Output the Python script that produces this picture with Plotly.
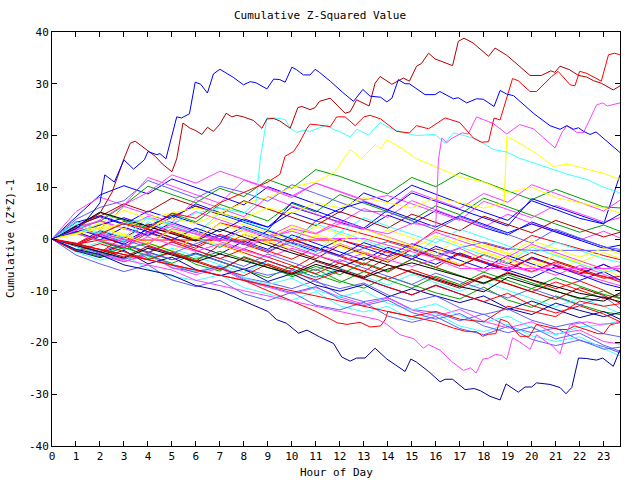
import plotly.graph_objects as go

HOURS = list(range(24)) + [23.68]
X_TICKS = list(range(24))
Y_TICKS = list(range(-40, 41, 10))

R, G, B, M, C = "#ff0000", "#00a000", "#0000ff", "#ff40ff", "#40ffff"
DR, Y, K, DB, MB = "#b00000", "#ffff00", "#000000", "#0000a0", "#6060ff"

# bundle series sampled hourly (HOURS)
S01 = [0,1.5,-0.5,-1.8,2.4,1.2,-0.3,3.1,2.0,0.6,-0.8,3.5,2.2,1.0,-0.4,-1.6,1.8,0.5,-0.9,-2.1,0.7,-0.6,-2.0,-3.2,-4.0]
S02 = [0,-2.2,-3.1,-4.4,-3.0,-5.6,-6.3,-5.2,-7.5,-8.4,-9.6,-8.0,-10.8,-12.1,-11.3,-13.6,-14.2,-15.8,-14.5,-16.9,-18.1,-17.2,-19.6,-20.8,-22.0]
S03 = [0,2.6,4.3,2.8,5.4,3.9,6.8,5.1,3.6,2.3,6.2,4.7,3.2,1.8,4.6,2.9,5.5,3.8,2.2,0.8,3.3,1.6,0.1,-1.4,-2.5]
S04 = [0,-1.4,-3.2,-1.1,-3.8,-2.5,-4.9,-6.2,-3.4,-5.0,-7.3,-5.8,-8.1,-9.5,-7.2,-8.8,-10.4,-11.6,-9.3,-11.8,-13.2,-11.0,-12.7,-14.1,-14.6]
S05 = [0,3.4,1.9,6.3,4.8,3.2,7.6,5.9,4.3,8.2,6.4,4.8,3.1,5.9,4.2,7.4,5.6,3.9,2.3,4.8,3.0,1.4,-0.2,1.5,0.2]
S06 = [0,-2.5,-4.1,-3.0,-5.8,-7.2,-8.0,-6.9,-9.4,-10.6,-11.8,-10.2,-12.9,-14.1,-13.0,-15.6,-14.4,-16.8,-17.9,-16.5,-18.7,-19.8,-18.9,-21.2,-22.6]
S07 = [0,1.2,3.0,5.6,3.9,2.4,1.0,4.2,2.7,1.3,-0.2,2.5,1.0,-0.6,1.8,0.2,-1.5,-3.0,-1.1,-2.8,-4.4,-5.9,-4.2,-5.8,-7.3]
S08 = [0,-1.0,1.6,0.2,2.9,1.4,-0.1,-1.6,0.9,-0.7,-2.3,-3.8,-1.2,-2.9,-4.5,-2.0,-3.7,-5.2,-3.1,-4.8,-2.6,-4.2,-5.8,-7.3,-7.9]
S09 = [0,2.3,0.9,-0.6,1.9,0.3,-1.3,-2.9,-0.4,-2.0,0.8,-0.9,-2.5,-4.1,-1.6,-3.3,-4.9,-2.7,-4.4,-6.0,-7.5,-5.3,-6.9,-8.6,-9.4]
S10 = [0,4.2,8.5,10.3,8.7,11.6,9.9,8.2,6.6,10.1,8.4,6.8,5.1,8.9,7.2,10.4,8.6,6.9,5.2,3.6,7.4,5.7,4.0,2.9,12.4]
S11 = [0,-3.1,-4.8,-6.3,-5.0,-7.9,-9.2,-8.0,-10.6,-11.9,-10.3,-12.8,-13.7,-12.2,-14.9,-16.1,-15.0,-17.3,-18.5,-16.9,-19.4,-20.6,-19.5,-21.3,-20.9]
S12 = [0,1.1,-0.4,-1.7,1.2,-0.3,-1.8,0.6,-1.0,-2.6,-0.1,-1.8,-3.4,-5.0,-2.2,-3.9,-5.5,-2.8,-4.5,-6.1,-3.6,-5.2,-6.8,-4.9,-6.3]
S13 = [0,2.4,5.1,3.6,2.1,4.9,3.3,6.7,5.1,3.5,6.9,5.2,8.6,6.9,5.2,3.6,6.4,4.7,7.9,6.2,4.5,2.9,1.3,2.7,1.5]
S14 = [0,-1.3,-2.8,-1.0,-2.5,-4.0,-2.7,-4.3,-5.9,-4.2,-5.8,-7.4,-6.0,-7.7,-9.3,-10.8,-8.9,-10.6,-12.2,-13.7,-12.0,-13.6,-15.2,-14.0,-15.5]
S15 = [0,1.7,3.6,2.1,0.5,2.9,1.3,-0.3,1.8,0.2,-1.4,-3.0,-0.9,-2.5,-4.1,-1.6,-3.3,-4.9,-6.4,-3.7,-5.4,-7.0,-5.1,-6.8,-8.0]
S16 = [0,-2.0,-0.6,-2.4,-4.0,-1.8,-3.4,-5.0,-6.5,-4.3,-5.9,-7.5,-5.6,-7.3,-8.9,-6.8,-8.5,-10.1,-8.3,-9.9,-11.5,-13.1,-11.4,-13.0,-14.4]
S17 = [0,2.1,3.4,6.5,10.2,8.6,7.0,9.8,8.2,11.5,9.8,13.4,12.1,10.4,8.7,11.9,10.1,12.8,11.0,9.3,7.6,9.6,7.9,6.2,6.0]
S18 = [0,-1.2,-2.6,0.4,-1.2,-2.8,-4.3,-1.1,-2.7,-4.2,-5.8,-3.1,-4.7,-6.3,-3.5,-1.9,-3.6,-5.2,-3.0,-4.7,-6.3,-4.4,-6.0,-7.6,-7.2]
S19 = [0,3.2,4.5,2.9,1.4,4.3,6.4,4.8,3.2,1.7,7.1,5.4,3.7,2.1,5.6,3.9,2.3,4.5,2.8,1.2,2.9,1.3,-0.3,-1.8,-1.2]
S20 = [0,-1.1,-2.7,-4.3,-3.1,-5.5,-6.9,-5.6,-8.0,-9.3,-10.6,-9.4,-11.2,-12.6,-11.4,-13.7,-14.9,-13.6,-15.9,-17.2,-16.0,-18.4,-17.6,-19.8,-20.3]
S21 = [0,1.0,2.6,0.9,-0.6,2.0,0.4,-1.2,0.9,-0.7,1.8,0.1,-1.5,-3.1,-0.5,-2.1,0.6,-1.0,-2.6,-4.1,-1.3,-2.9,-4.5,-2.6,-3.8]
S22 = [0,-1.4,0.8,-1.0,-2.6,-0.5,-2.2,-3.8,-5.3,-2.9,-4.5,-6.1,-4.0,-5.6,-7.2,-8.8,-6.6,-8.2,-9.8,-11.4,-9.6,-11.2,-12.8,-11.1,-13.4]
S23 = [0,2.2,0.7,3.4,1.8,0.2,-1.4,0.9,-0.7,-2.3,-3.9,-1.6,-3.2,-4.8,-6.4,-3.9,-5.5,-7.1,-8.7,-6.4,-8.0,-9.6,-8.1,-9.9,-11.5]
S24 = [0,5.3,8.1,6.5,11.9,10.2,8.5,6.9,11.4,9.7,8.0,10.8,9.1,7.4,5.7,9.3,7.6,5.9,8.8,7.1,10.5,8.8,7.1,5.4,7.5]
S25 = [0,-1.3,-3.0,-1.7,-3.4,-4.9,-6.3,-5.1,-7.5,-8.8,-7.6,-9.9,-11.2,-10.0,-12.4,-13.7,-12.5,-14.8,-16.1,-14.9,-17.2,-18.5,-17.0,-16.6,-15.8]
S26 = [0,1.4,-0.2,2.3,0.7,3.2,1.6,0.0,2.4,0.8,-0.8,-2.4,-0.1,-1.7,-3.3,-0.9,-2.5,-4.1,-5.7,-3.2,-4.8,-6.4,-8.0,-6.3,-7.9]
S27 = [0,-2.1,-3.4,-1.6,-3.2,-4.7,-2.8,-4.4,-6.0,-7.5,-5.2,-6.8,-8.4,-6.3,-7.9,-9.5,-7.2,-8.8,-6.4,-8.0,-9.6,-7.5,-9.1,-10.7,-11.5]
S28 = [0,2.5,4.4,6.8,5.2,7.9,6.3,4.7,7.4,5.8,4.2,2.6,5.3,3.7,2.1,4.8,3.2,1.6,4.4,2.8,1.2,3.6,2.0,0.4,1.3]
S29 = [0,-1.2,-2.6,-3.9,-2.8,-5.1,-6.5,-5.3,-7.8,-9.1,-10.4,-9.2,-11.6,-12.9,-11.8,-14.2,-15.5,-14.4,-16.8,-18.1,-17.0,-19.3,-18.2,-20.5,-21.7]
S30 = [0,1.3,-0.6,0.9,-0.7,-2.3,0.4,-1.2,-2.8,-0.3,-1.9,0.6,-1.0,-2.6,-4.2,-1.7,-3.3,-4.9,-2.4,-4.0,-5.6,-3.1,-4.7,-6.3,-5.0]
S31 = [0,3.3,1.8,0.3,4.2,2.6,1.0,5.0,3.4,1.8,0.2,2.9,1.3,4.1,2.5,0.9,-0.7,1.9,0.3,-1.3,-2.9,-0.6,-2.2,-3.8,-4.5]
S32 = [0,-2.3,-3.6,-2.2,-4.8,-3.5,-5.9,-7.1,-5.8,-8.2,-6.7,-8.9,-10.1,-8.8,-11.2,-9.6,-11.0,-12.3,-11.0,-13.4,-14.6,-12.4,-13.8,-15.0,-14.2]
S33 = [0,1.6,3.7,6.6,9.0,12.4,10.8,13.1,11.5,9.9,8.3,10.8,9.2,7.6,8.4,6.8,5.2,3.6,7.3,5.7,4.1,6.5,4.9,3.3,4.1]
S34 = [0,-1.1,0.5,-1.1,-2.7,-0.6,-2.2,-3.8,-1.9,-3.5,-5.1,-6.7,-4.6,-6.2,-7.8,-5.9,-7.5,-9.1,-7.0,-8.6,-10.2,-8.3,-9.9,-11.5,-10.8]
S35 = [0,2.0,0.5,-1.0,1.4,-0.2,2.1,0.5,-1.1,1.6,0.0,-1.6,-3.2,-0.7,-2.3,-3.9,-1.4,-3.0,-4.6,-6.2,-3.5,-5.1,-6.7,-4.9,-6.4]
S36 = [0,-1.0,-2.4,-1.0,-2.6,-4.0,-2.9,-4.4,-5.8,-7.0,-6.0,-8.3,-9.6,-8.5,-10.8,-12.1,-11.0,-13.3,-14.6,-13.5,-15.7,-17.0,-16.0,-18.3,-18.9]
S37 = [0,2.3,3.5,1.9,4.4,2.8,5.3,3.7,2.1,0.5,2.7,1.1,3.6,2.0,0.4,-1.2,1.3,-0.3,-1.9,-3.5,-1.0,-2.6,-4.2,-5.8,-5.2]
S38 = [0,1.3,2.7,4.1,2.5,4.6,3.0,1.4,3.9,2.3,5.1,3.5,5.8,7.2,5.6,8.9,7.3,5.7,4.1,2.5,7.8,6.2,4.6,3.0,4.8]
S39 = [0,-2.4,-0.9,-2.5,-4.0,-2.6,-4.2,-5.7,-7.1,-4.8,-6.4,-7.9,-6.2,-7.8,-9.3,-10.8,-9.0,-10.6,-12.1,-10.5,-12.8,-14.3,-12.9,-14.5,-16.0]
S40 = [0,1.2,-0.4,-2.0,-0.8,-2.4,-3.9,-2.4,-4.0,-5.5,-7.0,-5.3,-6.9,-4.6,-6.2,-3.9,-5.5,-7.1,-8.6,-6.9,-8.5,-10.1,-11.6,-10.0,-11.4]
S41 = [0,-1,-0.2,-0.2,-0.2,-0.2,-0.2,-0.2,-0.2,-0.2,-0.2,-0.2,-0.2,-1.3,-2.6,-3.4,-1.9,-3.2,-4.5,-5.6,-3.8,-5.1,-6.4,-7.2,-8.3]
S42 = [0,1.1,-0.3,-1.5,0.4,-1.1,-2.4,-0.9,-2.2,-3.5,-1.8,-3.1,-4.4,-2.7,-4.0,-5.3,-3.9,-5.7,-5.7,-5.7,-5.7,-5.7,-5.7,-5.7,-5.7]
S43 = [0,-1.2,1.3,-0.2,-1.6,-2.8,-0.9,0.6,-0.9,-2.3,-0.6,-2.0,-3.4,-1.8,-0.5,-1.9,-3.3,-1.7,-0.6,-1.9,-2.2,-2.2,-2.2,-2.2,-2.2]
S44 = [0,2.2,0.8,-0.6,1.3,2.4,0.9,-0.5,-1.9,0.4,1.5,0.1,0.1,0.1,-1.2,-2.5,-3.7,-1.8,-3.9,-5.2,-6.4,-4.7,-6.8,-8.1,-9.0]
S45 = [0,2.4,5.2,3.8,2.3,1.0,-0.4,1.9,0.3,-1.2,-2.7,-4.1,-5.5,-3.6,-5.0,-6.4,-7.8,-9.2,-10.2,-7.4,-8.8,-10.1,-11.4,-12.0,-10.4]
S46 = [0,-1.2,-2.5,-3.7,-1.8,-3.1,-4.4,-2.9,-4.2,-5.5,-6.8,-4.9,-6.2,-7.5,-5.8,-4.6,-5.9,-7.2,-8.5,-6.6,-7.9,-9.2,-10.5,-11.3,-12.1]
S47 = [0,3.8,6.1,7.4,11.3,9.6,7.9,10.2,9.0,7.3,10.5,8.8,7.1,5.4,5.2,3.5,1.8,4.3,2.6,0.9,-0.8,1.9,0.2,-1.5,-2.0]
S48 = [0,-0.8,-2.1,-3.5,-1.4,-2.9,-4.4,-5.9,-3.6,-5.1,-6.6,-4.3,-5.8,-7.3,-5.0,-6.5,-8.0,-9.5,-7.2,-8.7,-10.2,-11.7,-9.4,-10.9,-12.4]
S49 = [0,2.8,1.2,-0.4,3.3,1.7,0.1,-1.5,2.2,0.6,-1.0,-2.6,1.4,-0.2,-1.8,-3.4,0.1,-1.5,-3.1,-4.7,-1.6,-3.2,-4.8,-6.4,-5.8]
S50 = [0,0.9,2.2,0.6,-1.0,1.7,0.1,3.0,1.4,-0.2,2.6,1.0,-0.6,1.9,0.3,-1.3,-2.9,0.2,-1.4,-3.0,-0.3,-1.9,-3.5,-1.8,-2.9]

BUNDLE = [S01,S02,S03,S04,S05,S06,S07,S08,S09,S10,S11,S12,S13,S14,S15,S16,S17,S18,S19,S20,
          S21,S22,S23,S24,S25,S26,S27,S28,S29,S30,S31,S32,S33,S34,S35,S36,S37,S38,S39,S40,
          S41,S42,S43,S44,S45,S46,S47,S48,S49,S50]
BUNDLE_COLORS = [R,MB,B,G,M,C,Y,DR,B,B,MB,R,G,DB,M,C,G,R,B,M,
                 Y,MB,R,M,C,B,G,DR,MB,Y,C,DB,M,R,B,MB,M,B,R,G,
                 R,M,MB,M,K,K,MB,DR,C,Y]

# traced prominent series: (hour, value)
T_BLUE_TOP = [(0,0),(0.5,1),(1,2),(1.5,4),(2,7),(2.2,12.4),(2.6,11),(3.0,15.3),(3.4,13.5),(3.85,15.3),
    (4.0,16.9),(4.37,16.3),(4.5,16.5),(4.75,15.5),(5.2,23.6),(5.4,23.4),(5.73,24.2),(5.97,30.3),(6.2,29.9),(6.48,28.2),
    (6.73,31.9),(7.0,32.8),(7.57,31.2),(7.98,29.8),(8.26,30.4),(8.5,30.2),(8.96,29.0),(9.24,30.9),(9.5,30.8),(9.72,30.3),
    (10.0,33.2),(10.2,32.7),(10.48,31.7),(10.76,31.7),(10.97,32.8),(11.15,32.2),(11.6,30.5),(12.1,28.4),(12.57,26.6),(12.96,28.9),
    (13.26,27.6),(13.7,27.4),(13.96,26.5),(14.17,27.2),(14.44,30.8),(14.72,30.0),(14.9,30.0),(15.55,27.9),(15.97,27.9),(16.17,28.5),
    (16.73,27.1),(16.94,27.3),(17.29,26.3),(17.7,27.1),(17.98,27.0),(18.43,25.6),(18.68,28.7),(18.96,28.0),(19.24,27.7),(20.07,24.3),
    (20.76,21.9),(21.18,21.2),(21.46,21.9),(21.74,21.2),(21.95,21.5),(22.16,20.8),(22.43,20.2),(22.68,20.7),(23.12,18.9),(23.68,16.7)]
T_DARKRED_TOP = [(0,0),(1,2),(2,5),(2.5,9),(3.0,15.5),(3.26,18.5),(3.47,18.9),(3.68,18.2),(3.96,17.3),(4.3,16.0),
    (4.6,14.5),(5.0,13.0),(5.2,15.5),(5.46,22.4),(5.76,21.4),(5.97,21.0),(6.25,20.2),(6.48,21.6),(6.73,20.8),(7.0,22.2),
    (7.26,24.3),(7.5,23.6),(7.7,23.9),(7.98,23.6),(8.4,22.9),(8.75,21.4),(8.96,23.2),(9.24,23.3),(9.5,22.8),(9.93,21.4),
    (10.25,25.4),(10.42,25.6),(10.76,25.0),(10.97,25.4),(11.15,26.6),(11.6,27.2),(12.22,24.3),(12.43,24.6),(12.7,26.9),(13.22,25.7),
    (13.47,30.1),(13.68,31.4),(14.17,29.9),(14.65,31.1),(14.9,30.5),(15.2,33.4),(15.4,33.9),(15.7,35.9),(15.97,34.8),(16.7,33.5),
    (16.94,38.2),(17.18,38.8),(17.55,37.9),(18.2,35.3),(18.47,36.9),(18.96,35.5),(19.93,31.6),(20.4,31.6),(20.8,32.5),(20.96,32.2),
    (21.18,33.4),(21.58,32.7),(21.95,31.6),(22.29,31.3),(22.57,30.6),(22.9,30.1),(23.4,28.8),(23.68,29.6)]
T_RED_TOP = [(0,0),(1,-1),(2,1),(3,3),(4,2),(5,5),(6,4),(7,7),(8,9),(9,11),(9.5,12.5),(9.72,16.0),(10.07,16.9),(10.3,18.5),
    (10.63,21.4),(10.76,22.2),(11.15,22.0),(11.6,21.7),(11.87,23.6),(12.22,23.6),(12.64,21.9),(13.0,23.6),(13.26,23.9),(13.7,23.2),
    (14.37,20.8),(14.9,20.5),(15.2,21.9),(15.7,21.3),(16.39,23.4),(17.0,22.5),(17.57,19.5),(17.9,18.7),(18.2,18.8),(18.43,23.4),
    (18.68,23.0),(19.2,31.0),(19.43,30.6),(19.93,28.5),(20.2,28.5),(20.83,31.4),(21.1,32.4),(21.6,29.8),(21.8,29.6),(22.0,32.4),
    (22.3,32.0),(22.9,30.5),(23.2,35.6),(23.45,35.9),(23.68,35.6)]
T_CYAN_TOP = [(0,0),(1,2),(2,1),(3,3),(4,4),(5,3),(6,5),(7,6),(8,5),(8.5,7),(8.68,15.3),(8.96,23.4),(9.24,23.4),(9.72,23.1),
    (9.93,21.4),(10.2,20.6),(10.48,21.0),(10.76,20.8),(11.15,21.5),(11.45,22.0),(11.8,21.0),(12.0,20.8),(12.43,19.7),(12.7,21.2),
    (13.2,20.1),(13.68,22.5),(14.1,21.4),(14.6,20.6),(15.2,20.0),(15.97,20.2),(16.39,18.5),(16.73,20.5),(17.18,20.0),(17.7,19.3),
    (18.4,17.3),(18.96,16.8),(19.5,15.6),(20.2,14.5),(20.9,13.5),(21.5,12.5),(22.3,11.5),(23.0,10.0),(23.68,8.9)]
T_MAGENTA_TOP = [(0,0),(1,-1),(2,1),(3,0),(4,-1),(5,2),(6,1),(7,0),(8,-1),(9,0),(10,2),(11,1),(12,3),(13,2),(14,1),(15,3),
    (16.0,2.5),(16.11,15.3),(16.25,19.5),(16.45,18.6),(16.65,19.4),(17.1,20.5),(17.35,20.3),(17.7,23.6),(18.05,23.0),(18.4,22.3),
    (18.96,20.3),(19.5,22.1),(20.07,21.3),(20.97,17.6),(21.25,20.5),(21.46,21.9),(21.88,20.6),(22.16,20.6),(22.43,23.2),(22.7,25.9),
    (22.96,26.3),(23.15,25.7),(23.68,26.3)]
T_YELLOW_A = [(0,0),(1,1),(2,3),(3,2),(4,4),(5,5),(6,6),(7,5),(8,7),(9,8),(10,10),(11,11),(11.8,13),(12.43,17.3),(12.9,15.5),
    (13.47,18.2),(13.7,17.5),(13.96,19.2),(14.65,17.3),(15.2,15.5),(16,14),(17,12),(18,11),(19,9),(20,10),(21,8),(22,7),(23,6),(23.68,5)]
T_YELLOW_B = [(0,0),(1,1),(2,2),(3,3),(4,2),(5,4),(6,3),(7,5),(8,4),(9,6),(10,5),(11,7),(12,6),(13,8),(14,7),(15,6),(16,8),
    (17,7),(18,6),(18.85,7),(18.96,19.8),(19.5,18.5),(20.2,16.5),(20.9,14.0),(21.5,14.5),(22.3,13.5),(23.0,12.7),(23.68,11.5)]
T_DARKBLUE_BOT = [(0,0),(1,-2),(2,-3),(3,-5),(4,-6),(5,-7),(6,-9),(7,-10),(8,-12),(9,-14),(9.37,-15.6),(9.78,-16.3),(10.28,-18.2),
    (10.63,-17.6),(11.15,-18.9),(11.74,-20.2),(12.08,-22.8),(12.43,-23.6),(12.7,-23.0),(13.05,-23.0),(13.47,-21.1),(13.96,-23.2),
    (14.31,-24.3),(14.72,-25.6),(14.96,-23.2),(15.2,-23.8),(15.7,-25.6),(16.18,-27.6),(16.39,-27.1),(16.7,-27.1),(17.22,-29.1),
    (17.6,-28.9),(17.85,-29.3),(18.26,-30.4),(18.68,-31.1),(18.93,-28.0),(19.44,-29.6),(19.72,-28.6),(20.0,-28.6),(20.2,-27.8),
    (20.76,-28.1),(21.18,-28.7),(21.43,-29.9),(21.67,-28.7),(21.95,-23.0),(22.29,-23.1),(22.7,-23.4),(22.96,-23.0),(23.4,-24.6),(23.68,-21.4)]
T_MAGENTA_BOT = [(0,0),(1,-2),(2,-3),(3,-4),(4,-5),(5,-6),(6,-8),(7,-9),(8,-10),(9,-11),(10,-12),(11,-13),(12,-14),(13,-15),
    (13.6,-15.6),(13.96,-16.5),(14.51,-18.5),(15.1,-19.3),(15.48,-21.1),(15.7,-20.4),(16.18,-21.5),(16.67,-23.7),(17.15,-25.4),
    (17.45,-24.9),(17.68,-25.9),(17.96,-23.2),(18.2,-23.0),(18.5,-22.3),(18.75,-22.5),(18.96,-23.3),(19.2,-19.1),(19.5,-19.9),
    (19.93,-21.3),(20.2,-18.5),(20.9,-20.8),(21.18,-22.2),(21.4,-18.5),(21.6,-16.6),(22.0,-16.2),(22.3,-16.0),(22.8,-16.5),(23.68,-16.2)]
T_RED_BOT_A = [(0,0),(1,-1),(2,-2),(3,-3),(4,-4),(5,-5),(6,-6),(7,-7),(8,-8),(9,-10),(10,-12),(11,-14),(11.9,-16.2),(12.3,-16.5),
    (12.85,-16.1),(13.26,-17.0),(13.7,-16.8),(13.9,-15.5),(14,-14),(15,-15),(16,-14),(17,-15.5),(18,-16),(19,-13),(20,-14),
    (21,-15),(22,-12),(23,-13),(23.68,-12.5)]
T_RED_BOT_B = [(0,0),(1,-1),(2,-2),(3,-3),(4,-4),(5,-5),(6,-6),(7,-7),(8,-8),(9,-9),(10,-10),(11,-11),(12,-12),(13,-13),(14,-14),
    (15,-15),(16,-16),(16.73,-17.2),(17.29,-17.9),(17.7,-17.9),(17.96,-18.8),(18.2,-18.4),(18.5,-18.3),(18.7,-15.5),(19.0,-16),
    (19.5,-18.8),(19.9,-18.8),(20.2,-16.5),(21.18,-17.5),(21.5,-17.5),(21.8,-16.8),(22.77,-18.3),(23.0,-18.3),(23.27,-16.6),(23.68,-16.1)]

TRACED = [(T_YELLOW_A, Y), (T_YELLOW_B, Y), (T_CYAN_TOP, C), (T_MAGENTA_TOP, M), (T_RED_BOT_A, R),
          (T_RED_BOT_B, R), (T_MAGENTA_BOT, M), (T_DARKBLUE_BOT, DB), (T_RED_TOP, R),
          (T_DARKRED_TOP, DR), (T_BLUE_TOP, B)]

FONT = "DejaVu Sans Mono"

fig = go.Figure()
for vals, col in zip(BUNDLE, BUNDLE_COLORS):
    n = min(len(vals), len(HOURS))
    fig.add_trace(go.Scatter(x=HOURS[:n], y=vals[:n], mode="lines",
                             line=dict(color=col, width=1), hoverinfo="skip"))
for pts, col in TRACED:
    fig.add_trace(go.Scatter(x=[p[0] for p in pts], y=[p[1] for p in pts], mode="lines",
                             line=dict(color=col, width=1), hoverinfo="skip"))

axis_common = dict(showline=True, linecolor="black", linewidth=1, mirror="ticks",
                   ticks="inside", ticklen=5, tickwidth=1, tickcolor="black",
                   showgrid=False, zeroline=False,
                   tickfont=dict(family=FONT, size=11, color="black"))
fig.update_layout(
    width=640, height=480,
    margin=dict(l=52, r=20, t=32, b=34),
    paper_bgcolor="white", plot_bgcolor="white",
    showlegend=False,
    title=dict(text="Cumulative Z-Squared Value", x=0.5, xanchor="center",
               y=1 - 15 / 480, yanchor="middle", yref="container",
               font=dict(family=FONT, size=11, color="black")),
    xaxis=dict(range=[0, 23.68], tickvals=X_TICKS, ticktext=[str(v) for v in X_TICKS], **axis_common),
    yaxis=dict(range=[-40, 40], tickvals=Y_TICKS, ticktext=[str(v) for v in Y_TICKS], **axis_common),
    annotations=[
        dict(text="Hour of Day", xref="paper", yref="paper", x=0.5, y=(446 - 472) / 414,
             xanchor="center", yanchor="middle", showarrow=False,
             font=dict(family=FONT, size=11, color="black")),
        dict(text="Cumulative (Z*Z)-1", xref="paper", yref="paper", x=(10 - 52) / 568, y=0.5,
             xanchor="center", yanchor="middle", textangle=-90, showarrow=False,
             font=dict(family=FONT, size=11, color="black")),
    ],
)
fig.write_html("out.html")
